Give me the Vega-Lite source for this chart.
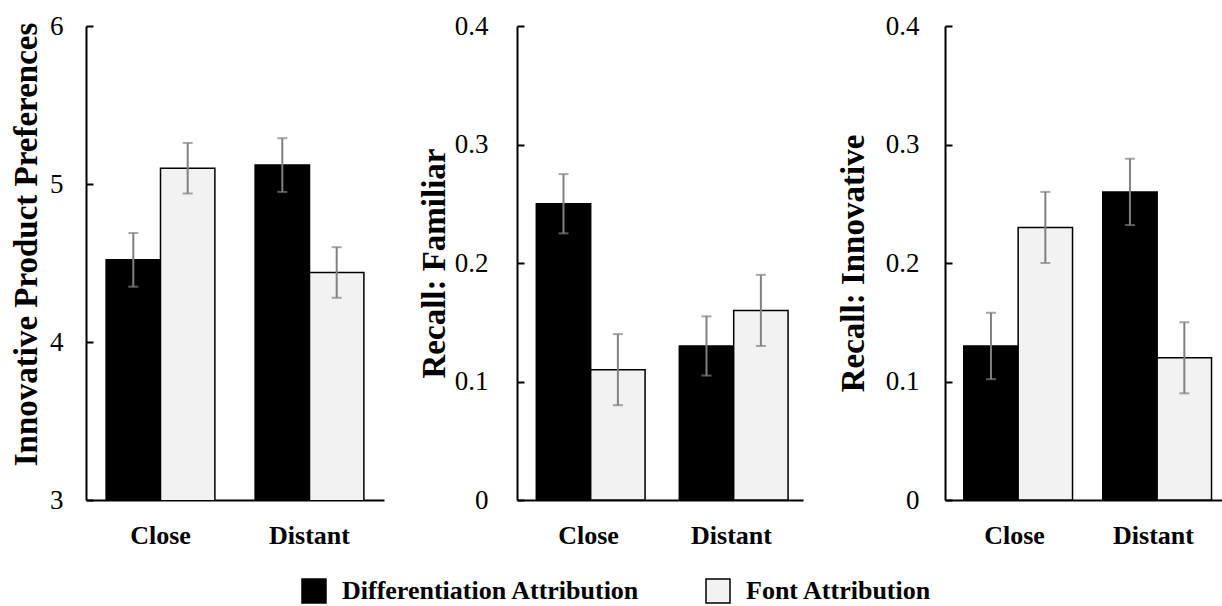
{
  "$schema": "https://vega.github.io/schema/vega-lite/v6.json",
  "padding": {"left": 10, "top": 12, "right": 0, "bottom": 0},
  "background": "white",
  "datasets": {
    "d": [
      {"measure": "pref", "distance": "Close", "attribution": "Differentiation Attribution", "mean": 4.52, "lo": 4.35, "hi": 4.69},
      {"measure": "pref", "distance": "Close", "attribution": "Font Attribution", "mean": 5.10, "lo": 4.94, "hi": 5.26},
      {"measure": "pref", "distance": "Distant", "attribution": "Differentiation Attribution", "mean": 5.12, "lo": 4.95, "hi": 5.29},
      {"measure": "pref", "distance": "Distant", "attribution": "Font Attribution", "mean": 4.44, "lo": 4.28, "hi": 4.60},
      {"measure": "fam", "distance": "Close", "attribution": "Differentiation Attribution", "mean": 0.25, "lo": 0.225, "hi": 0.275},
      {"measure": "fam", "distance": "Close", "attribution": "Font Attribution", "mean": 0.11, "lo": 0.08, "hi": 0.14},
      {"measure": "fam", "distance": "Distant", "attribution": "Differentiation Attribution", "mean": 0.13, "lo": 0.105, "hi": 0.155},
      {"measure": "fam", "distance": "Distant", "attribution": "Font Attribution", "mean": 0.16, "lo": 0.13, "hi": 0.19},
      {"measure": "inn", "distance": "Close", "attribution": "Differentiation Attribution", "mean": 0.13, "lo": 0.102, "hi": 0.158},
      {"measure": "inn", "distance": "Close", "attribution": "Font Attribution", "mean": 0.23, "lo": 0.20, "hi": 0.26},
      {"measure": "inn", "distance": "Distant", "attribution": "Differentiation Attribution", "mean": 0.26, "lo": 0.232, "hi": 0.288},
      {"measure": "inn", "distance": "Distant", "attribution": "Font Attribution", "mean": 0.12, "lo": 0.09, "hi": 0.15}
    ]
  },
  "config": {
    "font": "Liberation Serif, Times New Roman, serif",
    "view": {"stroke": null},
    "axis": {"grid": false, "domainColor": "black", "domainWidth": 2, "labelColor": "black", "titleColor": "black", "labelFont": "Liberation Serif, Times New Roman, serif", "titleFont": "Liberation Serif, Times New Roman, serif"},
    "axisY": {"tickSize": -7, "tickWidth": 2, "tickColor": "black", "labelFontSize": 27, "labelPadding": 31, "titleFontSize": 33, "titleFontWeight": "bold", "labelFontWeight": "normal"},
    "axisX": {"ticks": false, "tickSize": 0, "labelFontSize": 26, "labelFontWeight": "bold", "labelPadding": 22, "labelAngle": 0},
    "legend": {"layout": {"bottom": {"anchor": "middle"}}}
  },
  "spacing": 34,
  "resolve": {"scale": {"color": "shared"}},
  "hconcat": [
    {
      "width": 298, "height": 474,
      "data": {"name": "d"},
      "transform": [{"filter": "datum.measure === 'pref'"}],
      "encoding": {
        "x": {"field": "distance", "type": "nominal", "sort": ["Close", "Distant"], "scale": {"paddingInner": 0.27, "paddingOuter": 0.135}, "axis": {"title": null}},
        "xOffset": {"field": "attribution", "type": "nominal", "sort": ["Differentiation Attribution", "Font Attribution"], "scale": {"paddingInner": 0, "paddingOuter": 0}}
      },
      "layer": [
        {
          "mark": {"type": "bar", "stroke": "black", "strokeWidth": 1.5, "clip": true},
          "encoding": {
            "y": {"field": "mean", "type": "quantitative", "scale": {"domain": [3, 6], "zero": false}, "axis": {"values": [3, 4, 5, 6], "format": "d", "title": "Innovative Product Preferences", "titlePadding": 6, "labelPadding": 30, "titleY": 218}},
            "color": {"field": "attribution", "type": "nominal", "scale": {"domain": ["Differentiation Attribution", "Font Attribution"], "range": ["#000000", "#f2f2f2"]},
              "legend": {"title": null, "orient": "bottom", "direction": "horizontal", "symbolType": "square", "symbolSize": 576, "symbolStrokeColor": "black", "symbolStrokeWidth": 1.5, "symbolOpacity": 1, "labelFontSize": 26, "labelFontWeight": "bold", "labelFont": "Liberation Serif, Times New Roman, serif", "labelColor": "black", "labelOffset": 15, "columnPadding": 63, "labelLimit": 600, "offset": 30}}
          }
        },
        {"mark": {"type": "rule", "color": "#808080", "strokeWidth": 2}, "encoding": {"y": {"field": "lo", "type": "quantitative"}, "y2": {"field": "hi"}}},
        {"mark": {"type": "tick", "color": "#808080", "thickness": 2, "size": 10, "orient": "horizontal"}, "encoding": {"y": {"field": "lo", "type": "quantitative"}}},
        {"mark": {"type": "tick", "color": "#808080", "thickness": 2, "size": 10, "orient": "horizontal"}, "encoding": {"y": {"field": "hi", "type": "quantitative"}}}
      ]
    },
    {
      "width": 286, "height": 474,
      "data": {"name": "d"},
      "transform": [{"filter": "datum.measure === 'fam'"}],
      "encoding": {
        "x": {"field": "distance", "type": "nominal", "sort": ["Close", "Distant"], "scale": {"paddingInner": 0.27, "paddingOuter": 0.135}, "axis": {"title": null}},
        "xOffset": {"field": "attribution", "type": "nominal", "sort": ["Differentiation Attribution", "Font Attribution"], "scale": {"paddingInner": 0, "paddingOuter": 0}}
      },
      "layer": [
        {
          "mark": {"type": "bar", "stroke": "black", "strokeWidth": 1.5},
          "encoding": {
            "y": {"field": "mean", "type": "quantitative", "scale": {"domain": [0, 0.4]}, "axis": {"values": [0, 0.1, 0.2, 0.3, 0.4], "format": ".1~f", "title": "Recall: Familiar", "titlePadding": 3, "labelPadding": 36}},
            "color": {"field": "attribution", "type": "nominal"}
          }
        },
        {"mark": {"type": "rule", "color": "#808080", "strokeWidth": 2}, "encoding": {"y": {"field": "lo", "type": "quantitative"}, "y2": {"field": "hi"}}},
        {"mark": {"type": "tick", "color": "#808080", "thickness": 2, "size": 10, "orient": "horizontal"}, "encoding": {"y": {"field": "lo", "type": "quantitative"}}},
        {"mark": {"type": "tick", "color": "#808080", "thickness": 2, "size": 10, "orient": "horizontal"}, "encoding": {"y": {"field": "hi", "type": "quantitative"}}}
      ]
    },
    {
      "width": 278, "height": 474,
      "data": {"name": "d"},
      "transform": [{"filter": "datum.measure === 'inn'"}],
      "encoding": {
        "x": {"field": "distance", "type": "nominal", "sort": ["Close", "Distant"], "scale": {"paddingInner": 0.27, "paddingOuter": 0.135}, "axis": {"title": null}},
        "xOffset": {"field": "attribution", "type": "nominal", "sort": ["Differentiation Attribution", "Font Attribution"], "scale": {"paddingInner": 0, "paddingOuter": 0}}
      },
      "layer": [
        {
          "mark": {"type": "bar", "stroke": "black", "strokeWidth": 1.5},
          "encoding": {
            "y": {"field": "mean", "type": "quantitative", "scale": {"domain": [0, 0.4]}, "axis": {"values": [0, 0.1, 0.2, 0.3, 0.4], "format": ".1~f", "title": "Recall: Innovative", "titlePadding": 15, "labelPadding": 33}},
            "color": {"field": "attribution", "type": "nominal"}
          }
        },
        {"mark": {"type": "rule", "color": "#808080", "strokeWidth": 2}, "encoding": {"y": {"field": "lo", "type": "quantitative"}, "y2": {"field": "hi"}}},
        {"mark": {"type": "tick", "color": "#808080", "thickness": 2, "size": 10, "orient": "horizontal"}, "encoding": {"y": {"field": "lo", "type": "quantitative"}}},
        {"mark": {"type": "tick", "color": "#808080", "thickness": 2, "size": 10, "orient": "horizontal"}, "encoding": {"y": {"field": "hi", "type": "quantitative"}}}
      ]
    }
  ]
}
